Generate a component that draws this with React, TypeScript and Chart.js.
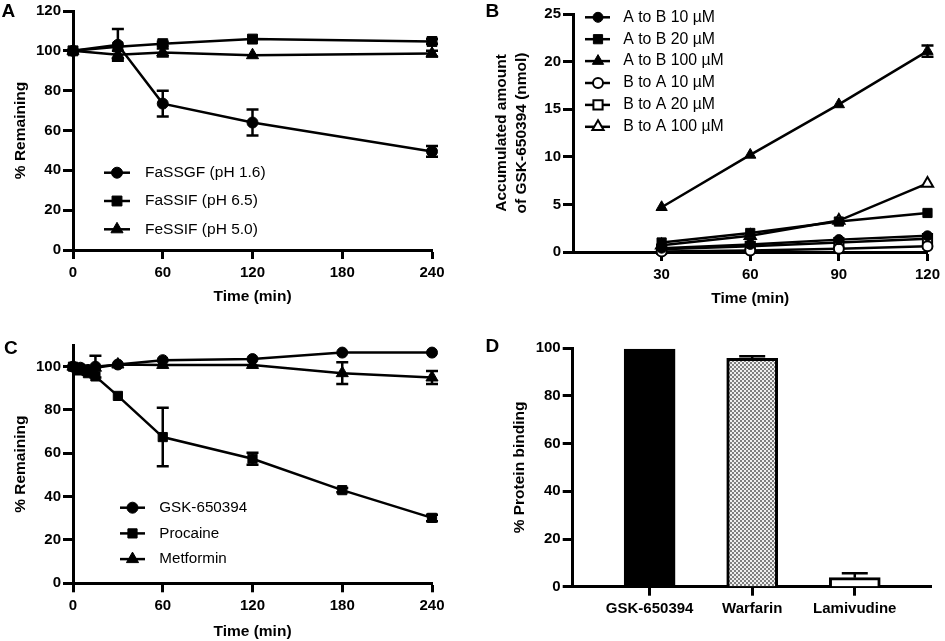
import React, { useEffect, useRef } from 'react';
import { Chart, registerables } from 'chart.js';

Chart.register(...registerables);

const FONT = '"Liberation Sans", Arial, Helvetica, sans-serif';

// ---------- Panel A ----------
const timesA = [0, 30, 60, 120, 240];
const faSSGF = [100, 103, 73.5, 64, 49.5];
const faSSGFErr = [0, 8, 6.5, 6.5, 2.7];
const faSSIF = [100, 102, 103.6, 105.9, 104.7];
const faSSIFErr = [0, 0, 1, 0, 1.2];
const feSSIF = [100, 98, 99.2, 97.8, 98.6];
const feSSIFErr = [0, 2, 2, 0, 1.5];
const xTicksA = [0, 60, 120, 180, 240];
const yTicksA = [0, 20, 40, 60, 80, 100, 120];

// ---------- Panel B ----------
const timesB = [30, 60, 90, 120];
const aToB10 = [0.4, 0.8, 1.3, 1.7];
const aToB20 = [1.0, 2.0, 3.2, 4.1];
const aToB100 = [4.7, 10.2, 15.5, 21.1];
const aToB100Err = [0, 0, 0, 0.6];
const bToA10 = [0.05, 0.15, 0.35, 0.6];
const bToA20 = [0.3, 0.6, 1.0, 1.4];
const bToA100 = [0.7, 1.7, 3.3, 7.2];
const xTicksB = [30, 60, 90, 120];
const yTicksB = [0, 5, 10, 15, 20, 25];

// ---------- Panel C ----------
const timesC = [0, 5, 10, 15, 30, 60, 120, 180, 240];
const gsk = [100, 99.5, 98.5, 100, 101, 103, 103.5, 106.5, 106.5];
const gskErr = [0, 0, 0, 5, 0, 0, 0, 0, 0];
const procaine = [100, 99, 97, 95.5, 86.5, 67.5, 57.5, 43, 30.2];
const procaineErr = [0, 0, 0, 0, 0, 13.5, 2.8, 1, 1.5];
const metformin = [100, 98, 97.5, 99.5, 101, 100.8, 100.8, 97, 95];
const metforminErr = [0, 1.5, 0, 0, 0, 0, 0, 5, 3];
const xTicksC = [0, 60, 120, 180, 240];
const yTicksC = [0, 20, 40, 60, 80, 100];

// ---------- Panel D ----------
const compoundsD = ['GSK-650394', 'Warfarin', 'Lamivudine'];
const bindingD = [99.7, 95.8, 3.8];
const bindingErrD = [0, 0.9, 1.8];
const yTicksD = [0, 20, 40, 60, 80, 100];

// ---------- helpers ----------
const xy = (xs: number[], ys: number[]) => xs.map((x, i) => ({ x, y: ys[i] }));

function lineSeries(label: string, xs: number[], ys: number[], errs: number[] | null, style: string, radius: number, filled: boolean) {
  return {
    label,
    data: xy(xs, ys),
    errorBars: errs,
    errorCap: 6,
    showLine: true,
    borderColor: '#000',
    borderWidth: 2.5,
    backgroundColor: filled ? '#000' : '#fff',
    pointStyle: style,
    pointRadius: radius,
    pointHoverRadius: radius,
    pointBackgroundColor: filled ? '#000' : '#fff',
    pointBorderColor: '#000',
    pointBorderWidth: filled ? 1 : 2,
    tension: 0,
    fill: false,
    clip: false,
  };
}

function drawMarker(ctx: CanvasRenderingContext2D, style: string, x: number, y: number, r: number, fill: string, bw: number) {
  ctx.save();
  ctx.fillStyle = fill;
  ctx.strokeStyle = '#000';
  ctx.lineWidth = bw;
  ctx.beginPath();
  if (style === 'circle') {
    ctx.arc(x, y, r, 0, Math.PI * 2);
  } else if (style === 'rect') {
    const s = r * Math.SQRT1_2;
    ctx.rect(x - s, y - s, 2 * s, 2 * s);
  } else {
    let a = 0;
    ctx.moveTo(x + Math.sin(a) * r, y - Math.cos(a) * r);
    a += (Math.PI * 2) / 3;
    ctx.lineTo(x + Math.sin(a) * r, y - Math.cos(a) * r);
    a += (Math.PI * 2) / 3;
    ctx.lineTo(x + Math.sin(a) * r, y - Math.cos(a) * r);
    ctx.closePath();
  }
  ctx.fill();
  if (bw > 0) ctx.stroke();
  ctx.restore();
}

function makeLegendPlugin(cfg: { x1: number; x2: number; mx: number; tx: number; y0: number; dy: number; size: number }) {
  return {
    id: 'lineLegend',
    afterDraw(chart: any) {
      const ctx = chart.ctx;
      chart.data.datasets.forEach((d: any, i: number) => {
        const y = cfg.y0 + i * cfg.dy;
        ctx.save();
        ctx.strokeStyle = '#000';
        ctx.lineWidth = d.borderWidth;
        ctx.beginPath();
        ctx.moveTo(cfg.x1, y);
        ctx.lineTo(cfg.x2, y);
        ctx.stroke();
        ctx.restore();
        drawMarker(ctx, d.pointStyle, cfg.mx, y, d.pointRadius, d.pointBackgroundColor, d.pointBorderWidth);
        ctx.save();
        ctx.fillStyle = '#000';
        ctx.font = `${cfg.size}px ${FONT}`;
        ctx.textBaseline = 'middle';
        ctx.textAlign = 'left';
        ctx.fillText(d.label, cfg.tx, y);
        ctx.restore();
      });
    },
  };
}

function drawErrors(chart: any) {
  const ctx = chart.ctx;
  const ys = chart.scales.y;
  chart.data.datasets.forEach((d: any, di: number) => {
    const errs = d.errorBars;
    if (!errs) return;
    const meta = chart.getDatasetMeta(di);
    const cap = d.errorCap ?? 6;
    meta.data.forEach((el: any, i: number) => {
      const e = errs[i];
      if (!e) return;
      const v = d.data[i].y;
      const x = el.x;
      const top = ys.getPixelForValue(v + e);
      const bot = ys.getPixelForValue(d.errorUpOnly ? v : v - e);
      ctx.save();
      ctx.strokeStyle = '#000';
      ctx.lineWidth = 2.5;
      ctx.beginPath();
      ctx.moveTo(x, top);
      ctx.lineTo(x, bot);
      ctx.moveTo(x - cap, top);
      ctx.lineTo(x + cap, top);
      if (!d.errorUpOnly) {
        ctx.moveTo(x - cap, bot);
        ctx.lineTo(x + cap, bot);
      }
      ctx.stroke();
      ctx.restore();
    });
  });
}

const errorBarPlugin = {
  id: 'errorBarsCustom',
  beforeDatasetsDraw(chart: any) {
    if (chart.config.type !== 'bar') drawErrors(chart);
  },
  afterDatasetsDraw(chart: any) {
    if (chart.config.type === 'bar') drawErrors(chart);
  },
};

function makeScale(o: any) {
  return {
    type: 'linear',
    min: o.min,
    max: o.max,
    offset: false,
    afterBuildTicks: (s: any) => {
      s.ticks = o.ticks.map((v: number) => ({ value: v }));
    },
    afterFit: (s: any) => {
      if (o.width != null) s.width = o.width;
      if (o.height != null) s.height = o.height;
    },
    border: { display: true, color: '#000', width: 3 },
    grid: {
      display: true,
      drawOnChartArea: false,
      drawTicks: true,
      tickLength: o.tickLength,
      tickWidth: 3,
      tickColor: '#000',
      offset: false,
    },
    ticks: {
      color: '#000',
      padding: o.tickPad,
      autoSkip: false,
      maxRotation: 0,
      minRotation: 0,
      includeBounds: false,
      font: { family: FONT, size: 15, weight: 'bold' },
      callback: o.labels ? (v: number) => o.labels[v] ?? '' : (v: number) => String(v),
    },
    title: o.title
      ? {
          display: true,
          text: o.title,
          color: '#000',
          font: { family: FONT, size: 15.5, weight: 'bold', lineHeight: o.titleLineHeight ?? 1.2 },
          padding: o.titlePad,
        }
      : { display: false },
  };
}

function pad(cx: number, cy: number, cw: number, ch: number, L: number, T: number, R: number, B: number, yW: number, xH: number) {
  return { left: L - cx - yW, top: T - cy, right: cx + cw - R, bottom: cy + ch - B - xH };
}

function baseOptions(padding: any, scales: any) {
  return {
    responsive: false,
    animation: false,
    events: [],
    layout: { padding },
    plugins: { legend: { display: false }, tooltip: { enabled: false }, title: { display: false } },
    scales,
  };
}

// ---------- configs ----------
function configA() {
  return {
    type: 'scatter',
    data: {
      datasets: [
        lineSeries('FaSSGF (pH 1.6)', timesA, faSSGF, faSSGFErr, 'circle', 5.5, true),
        lineSeries('FaSSIF (pH 6.5)', timesA, faSSIF, faSSIFErr, 'rect', 7, true),
        lineSeries('FeSSIF (pH 5.0)', timesA, feSSIF, feSSIFErr, 'triangle', 7, true),
      ],
    },
    options: baseOptions(pad(0, 0, 472, 320, 73, 10, 432, 250, 73, 70), {
      x: makeScale({ min: 0, max: 240, ticks: xTicksA, height: 70, tickLength: 9, tickPad: 4.5, title: 'Time (min)', titlePad: { top: 0, bottom: 14 } }),
      y: makeScale({ min: 0, max: 120, ticks: yTicksA, width: 73, tickLength: 10, tickPad: 2, title: '% Remaining', titlePad: { top: 11.4, bottom: 0 } }),
    }),
    plugins: [errorBarPlugin, makeLegendPlugin({ x1: 104, x2: 130, mx: 117, tx: 145, y0: 172.7, dy: 28.3, size: 15.5 })],
  };
}

function configB() {
  return {
    type: 'scatter',
    data: {
      datasets: [
        lineSeries('A to B 10 µM', timesB, aToB10, null, 'circle', 5, true),
        lineSeries('A to B 20 µM', timesB, aToB20, null, 'rect', 6.5, true),
        lineSeries('A to B 100 µM', timesB, aToB100, aToB100Err, 'triangle', 6.5, true),
        lineSeries('B to A 10 µM', timesB, bToA10, null, 'circle', 5, false),
        lineSeries('B to A 20 µM', timesB, bToA20, null, 'rect', 6.5, false),
        lineSeries('B to A 100 µM', timesB, bToA100, null, 'triangle', 6.5, false),
      ],
    },
    options: baseOptions(pad(472, 0, 473, 320, 573, 14, 930.7, 252, 101, 68), {
      x: makeScale({ min: 0, max: 120, ticks: xTicksB, height: 68, tickLength: 9, tickPad: 5, title: 'Time (min)', titlePad: { top: 0, bottom: 11.7 } }),
      y: makeScale({
        min: 0,
        max: 25,
        ticks: yTicksB,
        width: 101,
        tickLength: 10,
        tickPad: 2,
        title: ['Accumulated amount', 'of GSK-650394 (nmol)'],
        titleLineHeight: 1.27,
        titlePad: { top: 20.2, bottom: 0 },
      }),
    }),
    plugins: [errorBarPlugin, makeLegendPlugin({ x1: 113, x2: 138, mx: 126, tx: 151.3, y0: 17.3, dy: 21.9, size: 15.8 })],
  };
}

function configC() {
  return {
    type: 'scatter',
    data: {
      datasets: [
        lineSeries('GSK-650394', timesC, gsk, gskErr, 'circle', 5.5, true),
        lineSeries('Procaine', timesC, procaine, procaineErr, 'rect', 6.5, true),
        lineSeries('Metformin', timesC, metformin, metforminErr, 'triangle', 7, true),
      ],
    },
    options: baseOptions(pad(0, 320, 472, 321, 73, 345, 432, 583.3, 73, 57.7), {
      x: makeScale({ min: 0, max: 240, ticks: xTicksC, height: 57.7, tickLength: 9, tickPad: 4.5, title: 'Time (min)', titlePad: { top: 0, bottom: 0 } }),
      y: makeScale({ min: 0, max: 110, ticks: yTicksC, width: 73, tickLength: 10, tickPad: 2, title: '% Remaining', titlePad: { top: 11.4, bottom: 0 } }),
    }),
    plugins: [errorBarPlugin, makeLegendPlugin({ x1: 120, x2: 145, mx: 132.5, tx: 159.3, y0: 187.7, dy: 25.7, size: 15.2 })],
  };
}

function makeChecker() {
  const c = document.createElement('canvas');
  c.width = 4;
  c.height = 4;
  const g = c.getContext('2d') as CanvasRenderingContext2D;
  g.fillStyle = '#efefef';
  g.fillRect(0, 0, 4, 4);
  g.fillStyle = '#808080';
  g.fillRect(0, 0, 2, 2);
  g.fillRect(2, 2, 2, 2);
  return g.createPattern(c, 'repeat');
}

function configD() {
  const idx = compoundsD.map((_, i) => i);
  return {
    type: 'bar',
    data: {
      datasets: [
        {
          label: '% Protein binding',
          data: xy(idx, bindingD),
          backgroundColor: ['#000', makeChecker(), '#fff'],
          borderColor: '#000',
          borderWidth: 3,
          barThickness: 51,
          errorBars: bindingErrD,
          errorUpOnly: true,
          errorCap: 13,
        },
      ],
    },
    options: baseOptions(pad(472, 320, 473, 321, 572.7, 348.3, 931.7, 586.7, 100.7, 54.3), {
      x: makeScale({ min: -0.75, max: 2.75, ticks: idx, labels: compoundsD, height: 54.3, tickLength: 9, tickPad: 4.5 }),
      y: makeScale({ min: 0, max: 100, ticks: yTicksD, width: 100.7, tickLength: 10, tickPad: 2, title: '% Protein binding', titlePad: { top: 38.7, bottom: 0 } }),
    }),
    plugins: [errorBarPlugin],
  };
}

function Panel({ x, y, w, h, build }: { x: number; y: number; w: number; h: number; build: () => any }) {
  const ref = useRef<HTMLCanvasElement | null>(null);
  useEffect(() => {
    const chart = new Chart(ref.current as HTMLCanvasElement, build());
    return () => chart.destroy();
  }, []);
  return <canvas ref={ref} width={w} height={h} style={{ position: 'absolute', left: x, top: y, width: w, height: h }} />;
}

const letterStyle = (left: number, top: number): React.CSSProperties => ({
  position: 'absolute',
  left,
  top,
  font: `bold 19px ${FONT}`,
  lineHeight: '19px',
  color: '#000',
});

export default function App() {
  return (
    <div style={{ position: 'fixed', left: 0, top: 0, width: 945, height: 641, background: '#fff', overflow: 'hidden' }}>
      <Panel x={0} y={0} w={472} h={320} build={configA} />
      <Panel x={472} y={0} w={473} h={320} build={configB} />
      <Panel x={0} y={320} w={472} h={321} build={configC} />
      <Panel x={472} y={320} w={473} h={321} build={configD} />
      <div style={letterStyle(1.5, 1)}>A</div>
      <div style={letterStyle(485.5, 1)}>B</div>
      <div style={letterStyle(4, 338)}>C</div>
      <div style={letterStyle(485.5, 336)}>D</div>
    </div>
  );
}
